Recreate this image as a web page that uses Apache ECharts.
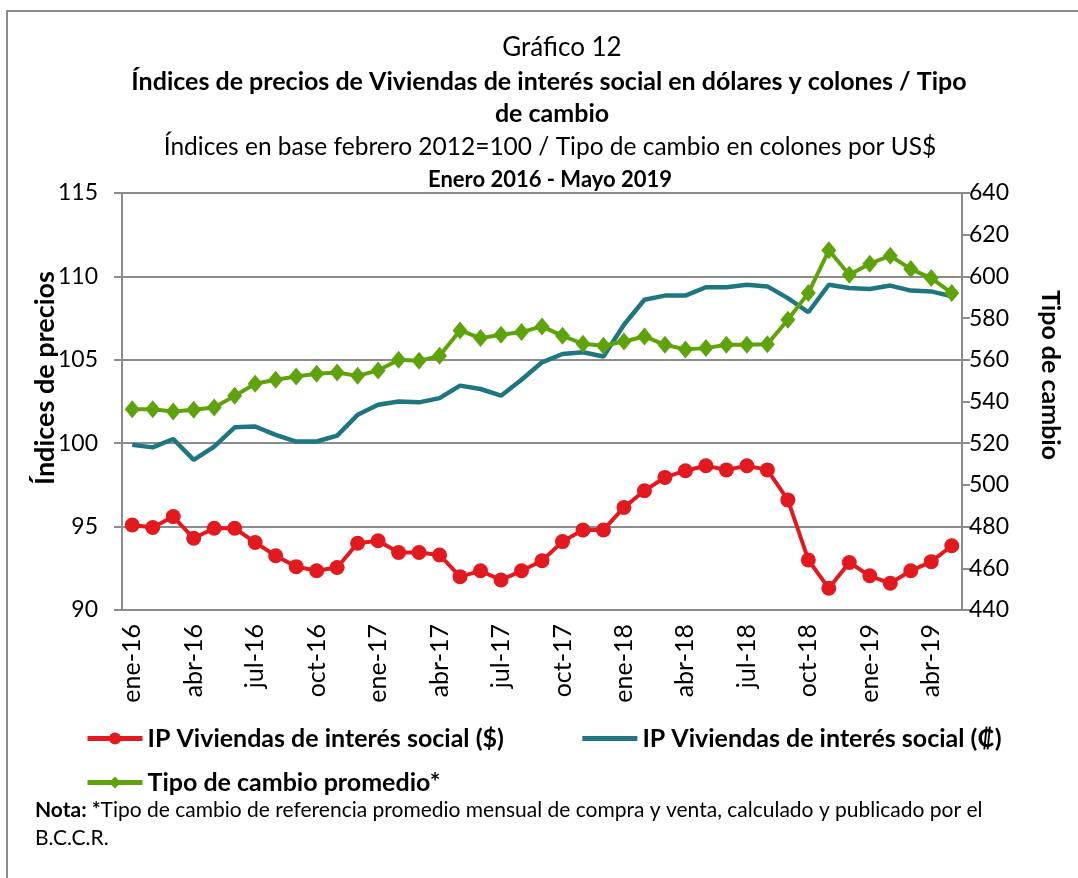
<!DOCTYPE html>
<html>
<head>
<meta charset="utf-8">
<script src="https://cdn.jsdelivr.net/npm/echarts@6/dist/echarts.min.js"></script>
<style>
  html, body { margin: 0; padding: 0; background: #fff; }
  #frame {
    position: absolute; left: 6px; top: 10px; width: 1100px; height: 900px;
    border-top: 2px solid #8c8c8c; border-left: 2px solid #8c8c8c;
  }
  #grafico { position: absolute; left: 0; top: 0; width: 1078px; height: 878px; }
</style>
</head>
<body>
<div id="frame"></div>
<div id="grafico"></div>
<script>
const meses = [
  "ene-16", "feb-16", "mar-16", "abr-16", "may-16", "jun-16", "jul-16", "ago-16", "sep-16", "oct-16", "nov-16", "dic-16",
  "ene-17", "feb-17", "mar-17", "abr-17", "may-17", "jun-17", "jul-17", "ago-17", "sep-17", "oct-17", "nov-17", "dic-17",
  "ene-18", "feb-18", "mar-18", "abr-18", "may-18", "jun-18", "jul-18", "ago-18", "sep-18", "oct-18", "nov-18", "dic-18",
  "ene-19", "feb-19", "mar-19", "abr-19", "may-19"
];

// IP Viviendas de interés social ($)
const ipDolares = [
  95.1, 94.95, 95.6, 94.3, 94.9, 94.9, 94.05, 93.25, 92.6, 92.35, 92.55, 94.0,
  94.15, 93.45, 93.45, 93.3, 92.0, 92.35, 91.8, 92.35, 92.95, 94.1, 94.8, 94.8,
  96.15, 97.15, 97.95, 98.35, 98.65, 98.4, 98.65, 98.4, 96.6, 93.0, 91.3, 92.85,
  92.05, 91.6, 92.35, 92.9, 93.85
];

// IP Viviendas de interés social (₡)
const ipColones = [
  99.9, 99.75, 100.25, 99.0, 99.8, 100.95, 101.0, 100.5, 100.1, 100.1, 100.45, 101.7,
  102.3, 102.5, 102.45, 102.7, 103.45, 103.25, 102.85, 103.8, 104.85, 105.35, 105.45, 105.2,
  107.1, 108.6, 108.85, 108.85, 109.35, 109.35, 109.5, 109.4, 108.7, 107.85, 109.5, 109.3,
  109.25, 109.45, 109.15, 109.1, 108.8
];

// Tipo de cambio promedio*
const tipoCambio = [
  536.3, 536.3, 535.2, 536.0, 537.1, 542.7, 548.5, 550.4, 552.0, 553.3, 553.9, 552.3,
  554.9, 560.0, 559.5, 561.9, 574.1, 570.4, 572.0, 573.3, 576.0, 571.5, 567.7, 566.7,
  568.8, 571.2, 567.2, 565.0, 565.6, 567.2, 567.2, 567.5, 579.2, 592.0, 612.5, 600.8,
  606.1, 609.9, 603.5, 599.2, 592.0
];

const nombres = ["IP Viviendas de interés social ($)", "IP Viviendas de interés social (₡)", "Tipo de cambio promedio*"];

const fuente = "Lato";
const gris = "#8c8c8c";

let myChart = echarts.init(document.getElementById("grafico"));

const leyendaTexto = { fontFamily: fuente, fontWeight: "bold", fontSize: 25, color: "#000" };

let option = {
  animation: false,
  textStyle: { fontFamily: fuente },
  grid: { left: 122, right: 116, top: 193, bottom: 268 },
  legend: [
    {
      data: [
        { name: nombres[0] },
        { name: nombres[1], itemStyle: { opacity: 0 } }
      ],
      left: 80,
      top: 721,
      itemWidth: 55,
      itemHeight: 15,
      itemGap: 76,
      lineStyle: { width: 5 },
      textStyle: leyendaTexto
    },
    {
      data: [nombres[2]],
      left: 80,
      top: 765,
      itemWidth: 55,
      itemHeight: 15,
      lineStyle: { width: 5 },
      textStyle: leyendaTexto
    }
  ],
  xAxis: {
    type: "category",
    data: meses,
    boundaryGap: true,
    axisLine: { lineStyle: { color: gris, width: 2 } },
    axisTick: { interval: 2, length: 8, lineStyle: { color: gris, width: 2 } },
    axisLabel: {
      interval: 2,
      rotate: 90,
      margin: 14,
      fontFamily: fuente,
      fontSize: 25,
      color: "#000"
    }
  },
  yAxis: [
    {
      type: "value",
      min: 90,
      max: 115,
      interval: 5,
      axisLine: { show: true, lineStyle: { color: gris, width: 2 } },
      axisTick: { show: true, length: 8, lineStyle: { color: gris, width: 2 } },
      splitLine: { lineStyle: { color: gris, width: 2 } },
      axisLabel: { margin: 24, fontFamily: fuente, fontSize: 23, color: "#000" }
    },
    {
      type: "value",
      min: 440,
      max: 640,
      interval: 20,
      axisLine: { show: true, lineStyle: { color: gris, width: 2 } },
      axisTick: { show: true, length: 8, lineStyle: { color: gris, width: 2 } },
      splitLine: { show: false },
      axisLabel: { margin: 7, fontFamily: fuente, fontSize: 23, color: "#000" }
    }
  ],
  series: [
    {
      name: nombres[0],
      type: "line",
      data: ipDolares,
      yAxisIndex: 0,
      symbol: "circle",
      symbolSize: 15,
      showAllSymbol: true,
      color: "#e2191f",
      lineStyle: { width: 4 },
      z: 4
    },
    {
      name: nombres[1],
      type: "line",
      data: ipColones,
      yAxisIndex: 0,
      symbol: "none",
      color: "#1d7680",
      lineStyle: { width: 4.5 },
      z: 3
    },
    {
      name: nombres[2],
      type: "line",
      data: tipoCambio,
      yAxisIndex: 1,
      symbol: "diamond",
      symbolSize: [15, 18],
      showAllSymbol: true,
      color: "#5ea20c",
      lineStyle: { width: 4 },
      z: 5
    }
  ],
  graphic: [
    {
      type: "text", x: 562, y: 48,
      style: { text: "Gráfico 12", font: "normal 26px Lato", fill: "#000", align: "center", verticalAlign: "middle" }
    },
    {
      type: "text", x: 549, y: 82,
      style: { text: "Índices de precios de Viviendas de interés social en dólares y colones / Tipo", font: "bold 25px Lato", fill: "#000", align: "center", verticalAlign: "middle" }
    },
    {
      type: "text", x: 552, y: 114,
      style: { text: "de cambio", font: "bold 25px Lato", fill: "#000", align: "center", verticalAlign: "middle" }
    },
    {
      type: "text", x: 550, y: 147,
      style: { text: "Índices en base febrero 2012=100 / Tipo de cambio en colones por US$", font: "normal 24.5px Lato", fill: "#000", align: "center", verticalAlign: "middle" }
    },
    {
      type: "text", x: 550, y: 180,
      style: { text: "Enero 2016 - Mayo 2019", font: "bold 22px Lato", fill: "#000", align: "center", verticalAlign: "middle" }
    },
    {
      type: "text", x: 45, y: 378, rotation: Math.PI / 2,
      style: { text: "Índices de precios", font: "bold 27px Lato", fill: "#000", align: "center", verticalAlign: "middle" }
    },
    {
      type: "text", x: 1050, y: 375, rotation: -Math.PI / 2,
      style: { text: "Tipo de cambio", font: "bold 25px Lato", fill: "#000", align: "center", verticalAlign: "middle" }
    },
    {
      type: "text", x: 35, y: 810,
      style: {
        text: "{b|Nota: *}Tipo de cambio de referencia promedio mensual de compra y venta, calculado y publicado por el",
        font: "normal 21px Lato", fill: "#000", verticalAlign: "middle",
        rich: { b: { fontWeight: "bold", fontSize: 21, fontFamily: fuente } }
      }
    },
    {
      type: "text", x: 35, y: 838,
      style: { text: "B.C.C.R.", font: "normal 21px Lato", fill: "#000", verticalAlign: "middle" }
    }
  ]
};

option && myChart.setOption(option);
</script>
</body>
</html>
